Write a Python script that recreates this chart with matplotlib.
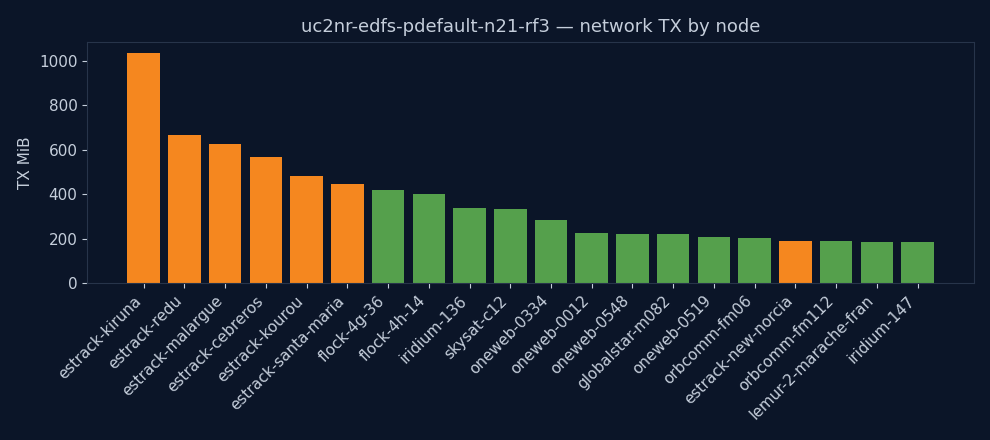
import matplotlib
matplotlib.use("Agg")
import matplotlib.pyplot as plt

# node names, TX volume (MiB), and whether node is a ground station
nodes = ["estrack-kiruna", "estrack-redu", "estrack-malargue", "estrack-cebreros",
         "estrack-kourou", "estrack-santa-maria", "flock-4g-36", "flock-4h-14",
         "iridium-136", "skysat-c12", "oneweb-0334", "oneweb-0012", "oneweb-0548",
         "globalstar-m082", "oneweb-0519", "orbcomm-fm06", "estrack-new-norcia",
         "orbcomm-fm112", "lemur-2-marache-fran", "iridium-147"]
tx_mib = [1033, 665, 625, 566, 481, 445, 418, 400, 338, 333,
          284, 226, 222, 221, 208, 203, 190, 189, 184, 184]
is_ground = [n.startswith("estrack") for n in nodes]

BG = "#0b1528"
FG = "#c5cedb"
SPINE = "#27344a"
ORANGE = "#f5871f"
GREEN = "#55a04c"

fig = plt.figure(figsize=(9.9, 4.4), dpi=100, facecolor=BG)
ax = fig.add_axes([0.088, 0.356, 0.896, 0.549], facecolor=BG)

colors = [ORANGE if g else GREEN for g in is_ground]
ax.bar(range(len(nodes)), tx_mib, color=colors, width=0.8)

ax.set_xticks(range(len(nodes)))
ax.set_xticklabels(nodes, rotation=45, ha="right", fontsize=11, color=FG)
ax.tick_params(axis="y", labelsize=11, colors=FG)
ax.tick_params(axis="x", colors=FG)
ax.set_ylabel("TX MiB", fontsize=11, color=FG)
ax.set_title("uc2nr-edfs-pdefault-n21-rf3 \u2014 network TX by node", fontsize=13, color=FG, pad=7)
for s in ax.spines.values():
    s.set_color(SPINE)

fig.savefig("out.png", dpi=100, facecolor=BG)
